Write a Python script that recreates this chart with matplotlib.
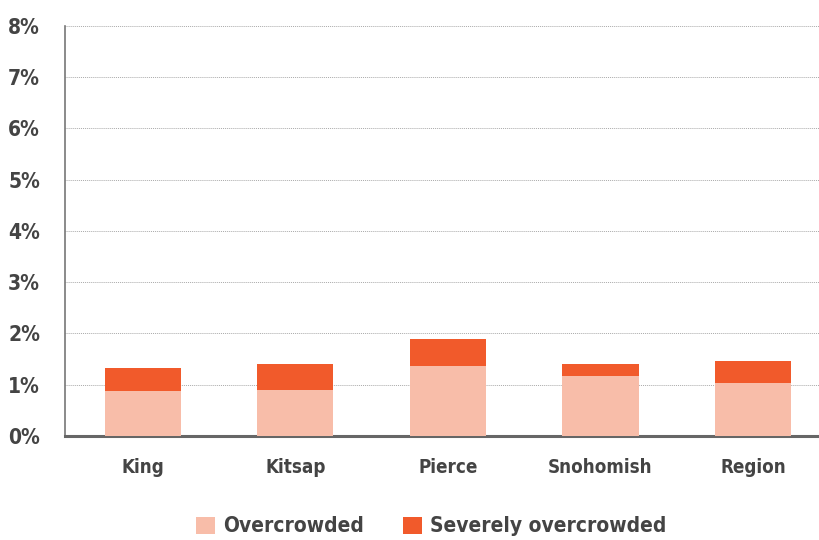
import matplotlib
matplotlib.use("Agg")
from matplotlib import pyplot as plt
from matplotlib import font_manager
import numpy as np

counties = ["King", "Kitsap", "Pierce", "Snohomish", "Region"]
overcrowded = [0.88, 0.89, 1.36, 1.18, 1.04]
severe = [0.45, 0.52, 0.54, 0.23, 0.43]
yticks = [0, 1, 2, 3, 4, 5, 6, 7, 8]

names = {f.name for f in font_manager.fontManager.ttflist}
fam = "Liberation Sans Narrow" if "Liberation Sans Narrow" in names else "DejaVu Sans"
plt.rcParams["font.family"] = [fam, "DejaVu Sans"]
plt.rcParams["font.weight"] = "bold"
plt.rcParams["font.stretch"] = "condensed"

light = "#F8BDA9"
dark = "#F15A2B"
txt = "#444444"

fig = plt.figure(figsize=(8.2, 5.4), dpi=100)
ax = fig.add_axes([0.0793, 0.1926, 0.9207, 0.7593])

x = np.arange(len(counties))
ax.bar(x, overcrowded, width=0.5, color=light, label="Overcrowded", zorder=3)
ax.bar(x, severe, width=0.5, bottom=overcrowded, color=dark,
       label="Severely overcrowded", zorder=3)

ax.set_xlim(-0.51, 4.44)
ax.set_ylim(0, 8)
ax.set_yticks(yticks)
ax.set_yticklabels([f"{t}%" for t in yticks])
ax.set_xticks(x)
ax.set_xticklabels(counties)
ax.grid(axis="y", linestyle=(0, (1, 1)), color="#aaaaaa", linewidth=0.7, zorder=0)
ax.tick_params(axis="y", length=0, pad=18, labelsize=15, labelcolor=txt)
ax.tick_params(axis="x", length=0, pad=16, labelsize=13.5, labelcolor=txt)

for s in ["top", "right"]:
    ax.spines[s].set_visible(False)
ax.spines["left"].set_color("#777777")
ax.spines["left"].set_linewidth(1.2)
ax.spines["bottom"].set_color("#666666")
ax.spines["bottom"].set_linewidth(2.2)

leg = fig.legend(loc="center", bbox_to_anchor=(0.526, 0.025), ncol=2, frameon=False,
                 handlelength=0.9, handleheight=0.9, handletextpad=0.4,
                 columnspacing=1.9, prop={"weight": "bold", "size": 15, "stretch": "condensed"})
for t in leg.get_texts():
    t.set_color(txt)

fig.savefig("out.png", dpi=100)
